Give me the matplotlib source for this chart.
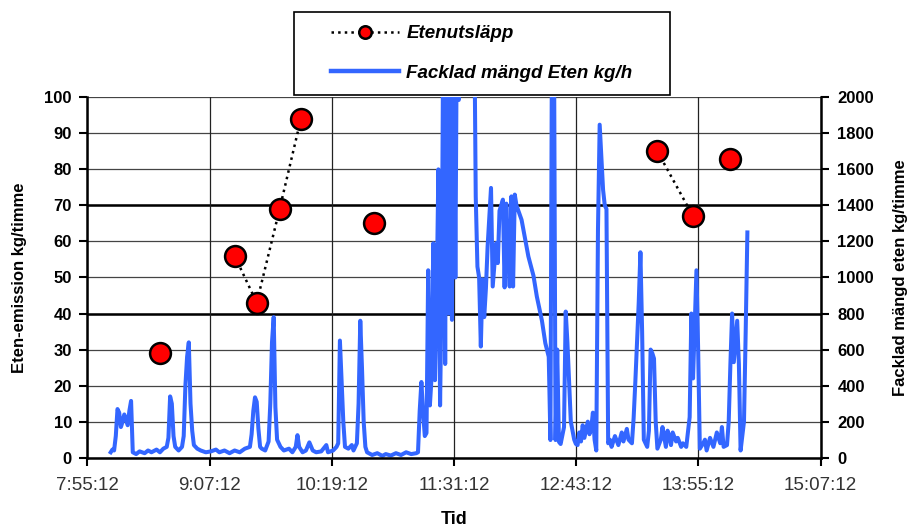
import datetime as dt
import matplotlib
matplotlib.use('Agg')
import matplotlib.pyplot as plt
from matplotlib.lines import Line2D
from matplotlib.patches import Rectangle
from matplotlib.ticker import FuncFormatter, MultipleLocator
import matplotlib.dates as mdates

plt.rcParams['font.family'] = ['Liberation Sans', 'DejaVu Sans']

# Ethylene emission measurements (left axis, kg/timme)
emission_times = ['8:38', '9:22', '9:35', '9:48:30', '10:01', '10:44', '13:31', '13:52', '14:14']
emission_values = [29, 56, 43, 69, 94, 65, 85, 67, 83]
emission_runs = [0, 1, 1, 1, 1, 2, 3, 3, 4]  # connected points share a run

# Flared ethylene (right axis, kg/h); values > 2000 are off the chart
flare_times = [
    '8:09', '8:10', '8:11', '8:12', '8:13', '8:14', '8:15', '8:16', '8:17', '8:19',
    '8:20', '8:21', '8:22', '8:24', '8:26', '8:29', '8:31', '8:33', '8:36', '8:38',
    '8:40', '8:42', '8:43', '8:44', '8:45', '8:46', '8:47', '8:49', '8:51', '8:52',
    '8:53', '8:54', '8:55', '8:56', '8:57', '8:58', '9:00', '9:02', '9:05', '9:08',
    '9:11', '9:13', '9:16', '9:19', '9:22', '9:25', '9:28', '9:31', '9:32', '9:33',
    '9:34', '9:35', '9:36', '9:37', '9:38', '9:40', '9:42', '9:43', '9:44', '9:45',
    '9:46', '9:47', '9:49', '9:51', '9:54', '9:56', '9:58', '9:59', '10:00', '10:02',
    '10:04', '10:06', '10:08', '10:10', '10:13', '10:16', '10:17', '10:20', '10:22', '10:23',
    '10:24', '10:25', '10:26', '10:27', '10:29', '10:31', '10:32', '10:34', '10:35', '10:36',
    '10:37', '10:38', '10:39', '10:40', '10:43', '10:46', '10:49', '10:51', '10:54', '10:57',
    '11:00', '11:03', '11:06', '11:09', '11:10', '11:11', '11:12', '11:13', '11:14', '11:15',
    '11:16', '11:17', '11:18', '11:19', '11:20', '11:21', '11:22', '11:23', '11:24', '11:25',
    '11:26', '11:27', '11:28', '11:29', '11:30', '11:31', '11:32', '11:33', '11:34', '11:35',
    '11:43', '11:44', '11:45', '11:46', '11:47', '11:48', '11:49', '11:50', '11:51', '11:53',
    '11:54', '11:56', '11:57', '11:58', '12:00', '12:01', '12:02', '12:03', '12:04', '12:05',
    '12:06', '12:07', '12:08', '12:11', '12:13', '12:15', '12:18', '12:20', '12:23', '12:25',
    '12:27', '12:28', '12:29', '12:30', '12:31', '12:32', '12:33', '12:34', '12:36', '12:37',
    '12:38', '12:40', '12:41', '12:42', '12:43', '12:44', '12:45', '12:46', '12:47', '12:48',
    '12:50', '12:51', '12:52', '12:53', '12:54', '12:55', '12:56', '12:57', '12:59', '13:00',
    '13:01', '13:02', '13:03', '13:04', '13:06', '13:08', '13:10', '13:11', '13:13', '13:14',
    '13:16', '13:17', '13:18', '13:20', '13:21', '13:22', '13:23', '13:25', '13:26', '13:27',
    '13:28', '13:29', '13:30', '13:31', '13:33', '13:34', '13:36', '13:37', '13:38', '13:39',
    '13:40', '13:42', '13:43', '13:45', '13:46', '13:48', '13:50', '13:51', '13:52', '13:54',
    '13:55', '13:56', '13:58', '13:59', '14:00', '14:02', '14:04', '14:06', '14:08', '14:09',
    '14:10', '14:12', '14:13', '14:14', '14:15', '14:16', '14:18', '14:19', '14:20', '14:22',
    '14:23', '14:24',
]
flare_kgh = [
    30, 45, 40, 120, 270, 250, 170, 200, 240, 180,
    260, 315, 30, 20, 35, 25, 40, 30, 45, 30,
    50, 60, 110, 340, 300, 120, 60, 40, 60, 120,
    400, 560, 640, 300, 150, 70, 50, 40, 30, 35,
    45, 30, 40, 25, 40, 30, 50, 60, 130, 260,
    335, 310, 160, 60, 50, 40, 90, 300, 640, 780,
    280, 100, 60, 40, 50, 30, 60, 125, 60, 30,
    40, 85, 40, 30, 35, 70, 30, 40, 60, 80,
    650, 420, 200, 60, 50, 70, 40, 80, 300, 760,
    500, 200, 60, 30, 15, 25, 10, 20, 12, 25,
    15, 30, 20, 25, 30, 260, 420, 250, 120, 137,
    1040, 290, 450, 1190, 430, 900, 1600, 290, 1000, 2600,
    520, 2600, 800, 2600, 765, 2600, 1000, 2600, 1985, 2600,
    2600, 1450, 1060, 1000, 617, 990, 780, 940, 1172, 1497,
    950, 1190, 1080, 1370, 1432, 945, 1410, 1170, 950, 1450,
    950, 1460, 1400, 1320, 1220, 1117, 1010, 894, 760, 635,
    560, 98, 2600, 2600, 98, 600, 88, 76, 170, 811,
    640, 200, 150, 100, 76, 70, 140, 90, 180, 110,
    200, 130, 160, 250, 100, 40, 1265, 1848, 1487, 1400,
    1380, 80, 100, 60, 120, 70, 140, 90, 160, 100,
    80, 220, 420, 860, 1140, 700, 100, 60, 150, 600,
    580, 550, 200, 50, 100, 170, 60, 150, 120, 70,
    140, 90, 110, 60, 80, 60, 225, 800, 440, 1040,
    600, 50, 80, 100, 40, 110, 60, 140, 80, 170,
    60, 70, 200, 520, 800, 530, 760, 520, 40, 200,
    700, 1250,
]

x_start = '7:55:12'
x_end = '15:07:12'
tick_step_min = 72


def clock(s):
    parts = [int(p) for p in s.split(':')] + [0, 0]
    return dt.datetime(2000, 1, 1, parts[0], parts[1], parts[2])


def fmt_time(v, pos=None):
    d = mdates.num2date(v)
    return f'{d.hour}:{d.minute:02d}:{d.second:02d}'


t0, t1 = clock(x_start), clock(x_end)
xticks = []
t = t0
while t <= t1:
    xticks.append(t)
    t += dt.timedelta(minutes=tick_step_min)

fig = plt.figure(figsize=(9.1, 5.29), dpi=100)
ax = fig.add_axes([0.0959, 0.1348, 0.8060, 0.6813])
ax2 = ax.twinx()
ax.set_zorder(ax2.get_zorder() + 1)
ax.patch.set_visible(False)

# grid lives on the right axis so the blue trace sits on top of it
ax2.set_ylim(0, 2000)
ax2.yaxis.set_major_locator(MultipleLocator(200))
ax2.yaxis.grid(True, color='#444444', linewidth=0.9)
for v in (800, 1400):
    ax2.axhline(v, color='black', linewidth=1.8, zorder=1.5)
for xt in xticks:
    ax2.axvline(xt, color='#222222', linewidth=0.9, zorder=1.5)
ax2.set_axisbelow(True)

ax2.plot([clock(s) for s in flare_times], flare_kgh, color='#3366ff',
         linewidth=2.9, zorder=3)

for run in sorted(set(emission_runs)):
    idx = [i for i, r in enumerate(emission_runs) if r == run]
    ax.plot([clock(emission_times[i]) for i in idx], [emission_values[i] for i in idx],
            linestyle=':', color='black', linewidth=1.8, marker='o', markersize=15,
            markerfacecolor='#ff0000', markeredgecolor='black', markeredgewidth=1.8,
            zorder=5)

ax.set_xlim(t0, t1)
ax.set_xticks(xticks)
ax.xaxis.set_major_formatter(FuncFormatter(fmt_time))
ax.set_ylim(0, 100)
ax.yaxis.set_major_locator(MultipleLocator(10))

for a in (ax, ax2):
    a.spines['top'].set_visible(False)
ax2.spines['left'].set_visible(False)
ax2.spines['bottom'].set_visible(False)
ax.spines['right'].set_visible(False)
for sp in (ax.spines['left'], ax.spines['bottom'], ax2.spines['right']):
    sp.set_linewidth(1.8)
    sp.set_color('black')

ax.tick_params(axis='x', direction='out', length=6, width=1.5, labelsize=13.5,
               labelcolor='#333333', pad=8)
ax.tick_params(axis='y', direction='out', length=6, width=1.5, labelsize=12, pad=5)
ax2.tick_params(axis='y', direction='out', length=6, width=1.5, labelsize=12, pad=6)
for lab in ax.get_yticklabels() + ax2.get_yticklabels():
    lab.set_fontweight('bold')

ax.set_ylabel('Eten-emission kg/timme', fontsize=12, fontweight='bold')
ax.yaxis.set_label_coords(-0.082, 0.5)
ax2.set_ylabel('Facklad mängd eten kg/timme', fontsize=12, fontweight='bold')
ax2.yaxis.set_label_coords(1.098, 0.5)
ax.set_xlabel('Tid', fontsize=13, fontweight='bold')
ax.xaxis.set_label_coords(0.5, -0.148)

handles = [
    Line2D([], [], linestyle=':', color='black', linewidth=1.8, marker='o', markersize=15,
           markerfacecolor='#ff0000', markeredgecolor='black', markeredgewidth=1.8),
    Line2D([], [], color='#3366ff', linewidth=3.2),
]
labels = ['Etenutsläpp', 'Facklad mängd Eten kg/h']
ax.legend(handles, labels, loc='center', bbox_to_anchor=(0.5297, 0.899),
          bbox_transform=fig.transFigure, frameon=False,
          prop=dict(weight='bold', style='italic', size=13.5),
          handlelength=3.6, handletextpad=0.4, labelspacing=1.2, markerscale=0.6)
fig.add_artist(Rectangle((294 / 910, 1 - 95 / 529), (670 - 294) / 910, (95 - 12) / 529,
                         transform=fig.transFigure, fill=False, linewidth=1.2,
                         edgecolor='black'))

fig.savefig('out.png', dpi=100)
plt.close(fig)
